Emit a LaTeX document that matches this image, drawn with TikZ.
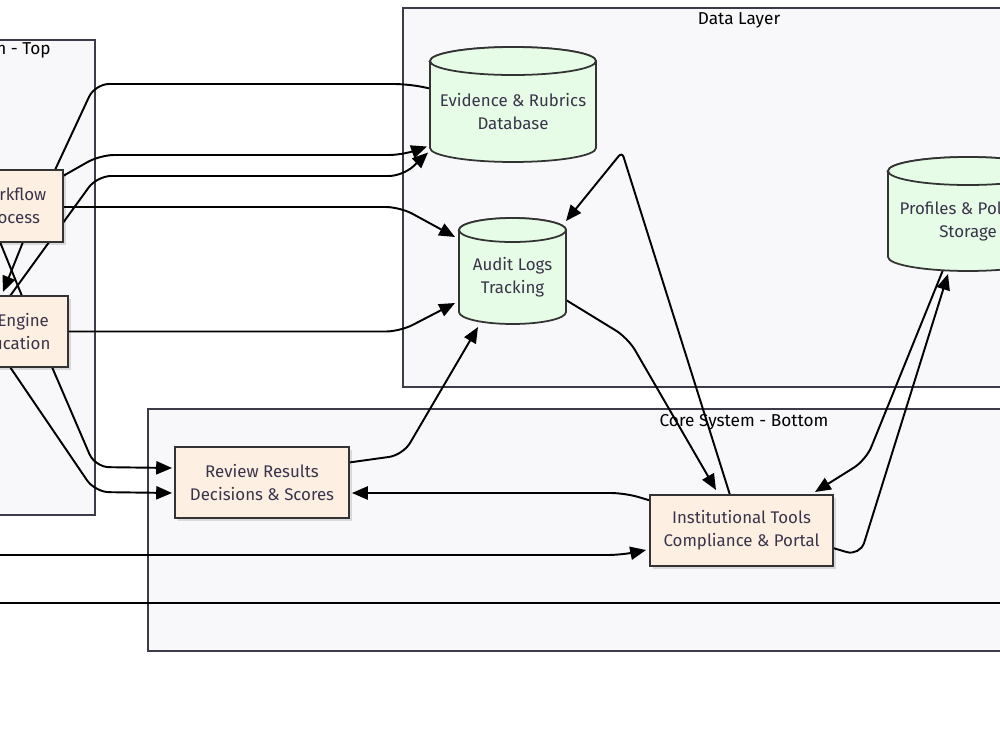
\documentclass[tikz,border=0pt]{standalone}
\usepackage{fontspec}
\setmainfont{Fira Sans}
\usetikzlibrary{arrows.meta,calc,shadows}

\definecolor{groupfill}{HTML}{F8F8FA}
\definecolor{groupline}{HTML}{3C3C48}
\definecolor{boxfill}{HTML}{FDF0E2}
\definecolor{dbfill}{HTML}{E6FCE6}
\definecolor{inkline}{HTML}{333333}
\definecolor{inktext}{HTML}{3A344A}

\pgfdeclarelayer{groups}
\pgfdeclarelayer{links}
\pgfdeclarelayer{drums}
\pgfsetlayers{groups,links,drums,main}

\tikzset{
  group/.style={draw=groupline,fill=groupfill,line width=1.1pt},
  grouptitle/.style={font=\fontsize{9.8}{13}\selectfont,text=black,inner sep=0pt},
  procbox/.style={rectangle,draw=inkline,fill=boxfill,line width=1pt,align=center,
    inner sep=2pt,outer sep=0pt,minimum height=1.42cm,text=inktext,
    font=\fontsize{9.6}{13}\selectfont,
    drop shadow={shadow xshift=1.5pt,shadow yshift=-1.5pt,opacity=0.12,fill=black}},
  dbnode/.style={rectangle,align=center,inner sep=0pt,outer sep=0pt,text=inktext,
    font=\fontsize{9.6}{13}\selectfont},
  dbbody/.style={draw=inkline,fill=dbfill,line width=1pt},
  link/.style={draw=black,line width=1.1pt,rounded corners=8pt},
  arr/.style={link,-{Triangle[length=9pt,width=7.5pt]}},
}

% cylinder round a node: node, half width, ellipse radius
\newcommand{\drum}[3]{%
  \path[dbbody] (#1.north west) -- ($(#1.south west)+(0,#3)$)
    arc[start angle=180,end angle=360,x radius=#2,y radius=#3]
    -- (#1.north east)
    arc[start angle=0,end angle=180,x radius=#2,y radius=#3] -- cycle;
  \path[dbbody] (#1.north) ellipse[x radius=#2,y radius=#3];
}

\begin{document}
\begin{tikzpicture}[x=0.02cm,y=0.02cm]
\useasboundingbox (0,0) rectangle (1000,-750);
\clip (0,0) rectangle (1000,-750);

% groups
\begin{pgfonlayer}{groups}
  \fill[white] (0,0) rectangle (1000,-750);
  \path[group] (-60,-40) rectangle (95,-515);
  \path[group] (403,-8) rectangle (1075,-387);
  \path[group] (148,-409) rectangle (1340,-651);
  \node[grouptitle,anchor=east] (toptitle) at (51,-50) {Core System - Top};
  \node[grouptitle] (datatitle) at (739,-20) {Data Layer};
  \node[grouptitle] (bottomtitle) at (744,-422) {Core System - Bottom};
\end{pgfonlayer}

% process boxes
\node[procbox,minimum width=2.08cm,minimum height=1.44cm] (wflow) at (11,-206) {Workflow\\Process};
\node[procbox,minimum width=2.72cm] (engine) at (0,-331.5) {Rules Engine\\Classification};
\node[procbox,minimum width=3.48cm] (review) at (262,-482.5) {Review Results\\Decisions \& Scores};
\node[procbox,minimum width=3.66cm] (inst) at (741.5,-530.5) {Institutional Tools\\Compliance \& Portal};

% data stores
\node[dbnode,minimum width=3.32cm,minimum height=2.02cm] (evid) at (513,-111.5) {Evidence \& Rubrics\\Database};
\node[dbnode,minimum width=2.14cm,minimum height=1.88cm] (audit) at (512.5,-277) {Audit Logs\\Tracking};
\node[dbnode,minimum width=3.2cm,minimum height=2.0cm] (prof) at (968,-221) {Profiles \& Policies\\Storage};

\begin{pgfonlayer}{drums}
  \drum{evid}{83}{14}
  \drum{audit}{53.5}{12}
  \drum{prof}{80}{14}
\end{pgfonlayer}

\coordinate (westA) at (-5,-555);
\coordinate (westB) at (-5,-603);
\coordinate (eastB) at (1005,-603);

\begin{pgfonlayer}{links}
  \draw[link] ($(wflow.north)+(44,0)$) -- (95,-84) -- (408,-84) -- ($(evid.west)+(0,23)$);
  \draw[arr] ($(wflow.north east)+(0,-6)$) -- (100,-155) -- (403,-155) -- ($(evid.west)+(-3,-35)$);
  \draw[arr] ($(engine.north)+(10,0)$) -- (97,-176) -- (403,-176) -- ($(evid.west)+(-2,-41)$);
  \draw[arr] ($(wflow.east)+(0,-1)$) -- (400,-207) -- ($(audit.west)+(-4,40)$);
  \draw[arr] (engine.east) -- (400,-331.5) -- ($(audit.west)+(-4,-26)$);
  \draw[arr] ($(wflow.south)+(12,0)$) -- ($(engine.north)+(3,4)$);
  \draw[link] ($(wflow.south)+(-11,0)$) -- ($(engine.north)+(22,0)$);
  \draw[arr] ($(engine.south)+(52,0)$) -- (95,-467) -- ($(review.west)+(-3,14.5)$);
  \draw[arr] ($(engine.south)+(10,0)$) -- (95,-492) -- ($(review.west)+(-3,-10.5)$);
  \draw[arr] ($(review.east)+(0,20)$) -- (403,-455) -- ($(audit.south)+(-34.5,-3)$);
  \draw[arr] ($(inst.west)+(0,30)$) -- (625,-493) -- ($(review.east)+(3,-10.5)$);
  \draw[arr] (westA) -- (622,-555) -- ($(inst.west)+(-4,-19.5)$);
  \draw[arr] ($(audit.east)+(0,-23)$) -- (628,-338) -- ($(inst.north)+(-25.5,5)$);
  \draw[arr,rounded corners=3pt] ($(inst.north)+(-11.5,0)$) -- (622,-152) -- ($(audit.north east)+(0,9)$);
  \draw[arr] ($(inst.east)+(0,-17.5)$) -- (860,-556) -- ($(prof.south)+(-20,-3)$);
  \draw[arr] ($(prof.south)+(-25,1)$) -- (866,-460) -- ($(inst.north east)+(-18,3)$);
  \draw[link] (westB) -- (eastB);
\end{pgfonlayer}
\end{tikzpicture}
\end{document}
